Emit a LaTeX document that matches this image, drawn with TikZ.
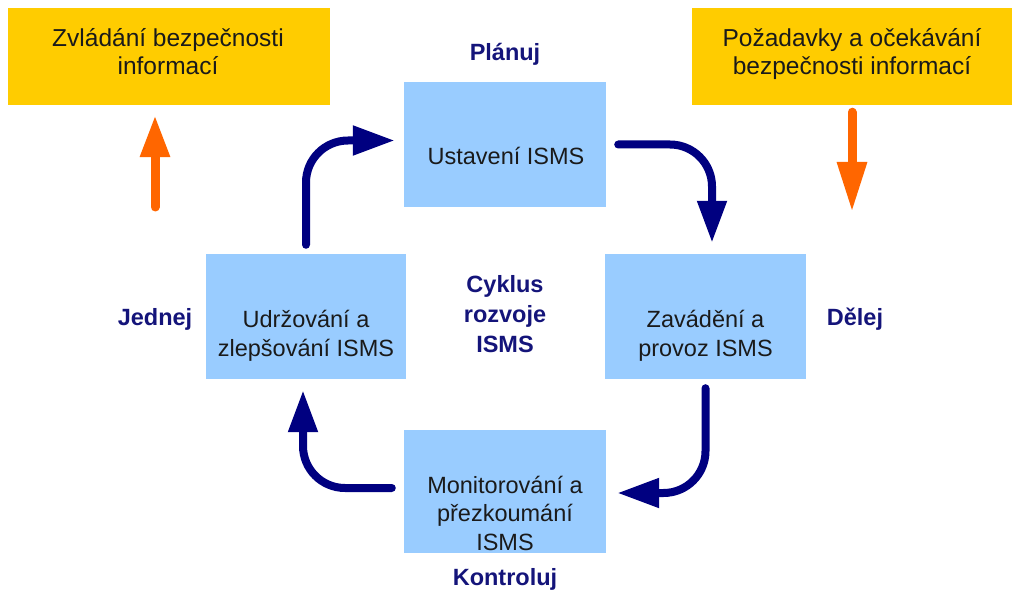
\documentclass[tikz,border=0pt]{standalone}
\usepackage{fontspec}
\setmainfont{Liberation Sans}
\usetikzlibrary{arrows.meta}
\definecolor{boxblue}{HTML}{99CCFF}
\definecolor{boxyellow}{HTML}{FFCC00}
\definecolor{arrnavy}{HTML}{000080}
\definecolor{labnavy}{HTML}{14147A}
\definecolor{arrorange}{HTML}{FF6600}
\definecolor{txt}{HTML}{1A1A1A}
\begin{document}
\begin{tikzpicture}[x=1pt,y=-1pt,
  bluebox/.style={fill=boxblue, draw=none, minimum width=201pt, minimum height=125pt, inner sep=0pt},
  yellowbox/.style={fill=boxyellow, draw=none, minimum height=97pt, inner sep=0pt},
  boxtext/.style={font=\fontsize{23.5}{28.5}\selectfont, text=txt, align=center, anchor=base, inner sep=0pt},
  ytext/.style={boxtext, font=\fontsize{24.5}{28}\selectfont},
  phase/.style={font=\fontsize{23.5}{29.5}\selectfont\bfseries, text=labnavy, align=center, anchor=base, inner sep=0pt},
  cyc/.style={draw=arrnavy, line width=8pt, line cap=round, rounded corners=42pt, -{Triangle[length=42pt,width=28pt]}},
  flow/.style={draw=arrorange, line width=9pt, line cap=round, -{Triangle[length=42pt,width=28pt]}}]
\fill[white] (0,0) rectangle (1024,601);
\useasboundingbox (0,0) rectangle (1024,601);

% yellow boxes
\node[yellowbox, minimum width=322pt] (yl) at (169,56.5) {};
\node[yellowbox, minimum width=320pt] (yr) at (852,56.5) {};
\node[ytext] (ylt) at (168,75) {Zvládání bezpečnosti\\informací};
\node[ytext] (yrt) at (852,75) {Požadavky a očekávání\\bezpečnosti informací};

% blue boxes
\node[bluebox, minimum width=202pt] (top) at (505,144.5) {};
\node[bluebox] (right) at (705.5,316.5) {};
\node[bluebox, minimum width=200pt] (left) at (306,316.5) {};
\node[bluebox, minimum width=202pt, minimum height=123pt] (bottom) at (505,491.5) {};
\node[boxtext] (topt) at (506,165) {Ustavení ISMS};
\node[boxtext] (rightt) at (705.5,356) {Zavádění a\\provoz ISMS};
\node[boxtext] (leftt) at (306,356) {Udržování a\\zlepšování ISMS};
\node[boxtext] (bottomt) at (505,550) {Monitorování a\\přezkoumání\\ISMS};

% phase labels
\node[phase] (plan) at (505,61) {Plánuj};
\node[phase] (do) at (855,325) {Dělej};
\node[phase] (act) at (155,325) {Jednej};
\node[phase] (check) at (505,585) {Kontroluj};
\node[phase] (cycle) at (505,352) {Cyklus\\rozvoje\\ISMS};

% cycle arrows
\draw[cyc] ([yshift=9pt]left.north) |- ([xshift=-9pt,yshift=4pt]top.west);
\draw[cyc] ([xshift=12pt]top.east) -| ([xshift=6.5pt,yshift=11pt]right.north);
\draw[cyc] ([yshift=-9pt]right.south) |- ([xshift=11pt,yshift=-1.5pt]bottom.east);
\draw[cyc] ([xshift=-12pt,yshift=3.5pt]bottom.west) -| ([xshift=-3pt,yshift=-11pt]left.south);

% orange arrows
\coordinate (lstart) at (155,207);
\coordinate (rend) at (852,212);
\draw[flow] (lstart) -- ([xshift=-14pt,yshift=-10pt]yl.south);
\draw[flow, -{Triangle[length=50pt,width=28pt]}] ([yshift=-7pt]yr.south) -- (rend);
\end{tikzpicture}
\end{document}
